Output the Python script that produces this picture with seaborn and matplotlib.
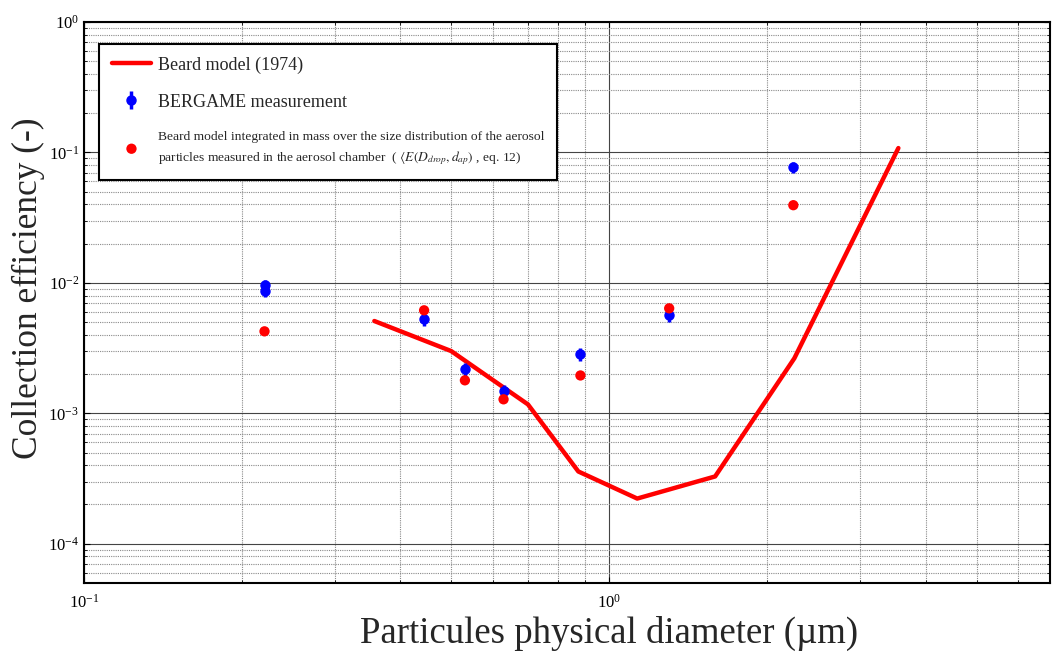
import numpy as np
import pandas as pd
import matplotlib
matplotlib.use("Agg")
import matplotlib.pyplot as plt
import seaborn as sns
from matplotlib.ticker import LogLocator, NullFormatter

# Beard model (1974) curve
beard_d = [0.357, 0.50, 0.70, 0.873, 1.13, 1.59, 2.25, 3.55]
beard_e = [5.1e-3, 3.0e-3, 1.17e-3, 3.58e-4, 2.22e-4, 3.28e-4, 2.64e-3, 0.108]

# BERGAME measurements
meas_d = [0.2206, 0.2206, 0.444, 0.531, 0.629, 0.881, 1.30, 2.24]
meas_e = [9.7e-3, 8.6e-3, 5.26e-3, 2.17e-3, 1.47e-3, 2.83e-3, 5.64e-3, 0.0771]
meas_err = [0.9e-3, 0.8e-3, 0.6e-3, 0.25e-3, 0.17e-3, 0.33e-3, 0.65e-3, 0.008]

# Beard model integrated over the aerosol size distribution
integ_d = [0.2206, 0.444, 0.531, 0.629, 0.881, 1.30, 2.24]
integ_e = [4.25e-3, 6.16e-3, 1.79e-3, 1.28e-3, 1.95e-3, 6.38e-3, 0.0394]

sns.set_theme(style="ticks")
plt.rcParams['font.family'] = ['Liberation Serif', 'DejaVu Serif']
plt.rcParams['mathtext.fontset'] = 'stix'

fig = plt.figure(figsize=(10.52, 6.52), dpi=100)
ax = fig.add_axes([84/1052, 1-583/652, (1050-84)/1052, (583-22)/652])

ax.set_xscale('log')
ax.set_yscale('log')
ax.set_xlim(0.1, 6.9)
ax.set_ylim(5e-5, 1)

ax.grid(True, which='major', color='#444444', lw=0.8, ls='-')
ax.grid(True, which='minor', color='#8a8a8a', lw=0.8, ls=(0, (1, 1)))
ax.set_axisbelow(True)

df_b = pd.DataFrame({'d': beard_d, 'e': beard_e})
sns.lineplot(data=df_b, x='d', y='e', ax=ax, color='#ff0000', lw=3.2,
             label='Beard model (1974)', sort=False, zorder=3)

eb = ax.errorbar(meas_d, meas_e, yerr=meas_err, fmt='o', color='#0000ff',
                 ms=6.5, elinewidth=2.5, capsize=0, zorder=4,
                 label='BERGAME measurement')

df_i = pd.DataFrame({'d': integ_d, 'e': integ_e})
sns.scatterplot(data=df_i, x='d', y='e', ax=ax, color='#ff0000', s=55,
                edgecolor='none', zorder=5,
                label=('Beard model integrated in mass over the size distribution of the aerosol\n'
                       'particles measured in the aerosol chamber  ( $\\langle E(D_{drop},d_{ap})$ , eq. 12)'))

ax.xaxis.set_major_locator(LogLocator(base=10, numticks=10))
ax.xaxis.set_minor_locator(LogLocator(base=10, subs=np.arange(2, 10), numticks=20))
ax.yaxis.set_major_locator(LogLocator(base=10, numticks=10))
ax.yaxis.set_minor_locator(LogLocator(base=10, subs=np.arange(2, 10), numticks=20))
ax.xaxis.set_minor_formatter(NullFormatter())
ax.yaxis.set_minor_formatter(NullFormatter())

ax.tick_params(which='both', direction='in', top=True, right=True, labelsize=12, colors='black')
ax.tick_params(which='major', length=4, width=0.8)
ax.tick_params(which='minor', length=2.5, width=0.6)
ax.tick_params(axis='x', pad=8)
for s in ax.spines.values():
    s.set_color('black')
    s.set_linewidth(1.5)

ax.set_xlabel('Particules physical diameter (µm)', fontsize=26.5, labelpad=0)
ax.xaxis.set_label_coords((609-84)/966, -0.058)
ax.set_ylabel('Collection efficiency (-)', fontsize=25.5, labelpad=6)
ax.yaxis.set_label_coords(-0.040, 1-(288-22)/561)

handles, labels = ax.get_legend_handles_labels()
order = [labels.index('Beard model (1974)'), labels.index('BERGAME measurement')]
order += [i for i in range(len(labels)) if i not in order]
leg = ax.legend([handles[i] for i in order], [labels[i] for i in order],
                loc='upper left', bbox_to_anchor=(0.0155, 0.961),
                borderaxespad=0, fontsize=13, frameon=True, fancybox=False,
                edgecolor='black', framealpha=1, handlelength=2.2, handletextpad=0.35,
                labelspacing=1.1, borderpad=0.7)
leg.get_frame().set_linewidth(1.5)
t3 = leg.get_texts()[2]
t3.set_fontsize(9.7)
t3.set_linespacing(1.6)

fig.savefig('out.png', dpi=100)
